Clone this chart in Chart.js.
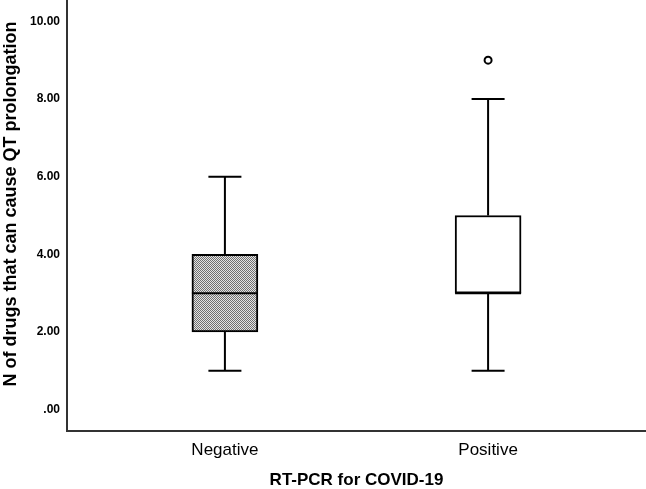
<!DOCTYPE html>
<html>
<head>
<meta charset="utf-8">
<script src="https://cdn.jsdelivr.net/npm/chart.js@4.4.0/dist/chart.umd.min.js"></script>
<style>
  body { margin: 0; background: #fff; }
  canvas { display: block; }
</style>
</head>
<body>
<canvas id="qt_box_chart" width="646" height="489"></canvas>
<script>
// groups and box plot summary values
const groups = ['Negative', 'Positive'];
const groupPos = [1, 2];
const minVals = [1, 1];
const q1Vals = [2, 3];
const medianVals = [3, 3];
const q3Vals = [4, 5];
const maxVals = [6, 8];
// outliers (group position, value)
const outlierPos = [2];
const outlierVals = [9];
const yTicks = [0, 2, 4, 6, 8, 10];

const yTitle = 'N of drugs that can cause QT prolongation';
const xTitle = 'RT-PCR for COVID-19';
const FONT = "'Liberation Sans', Arial, sans-serif";

let canvas = document.getElementById('qt_box_chart');
let ctx = canvas.getContext('2d');

// fine dotted fill like the SPSS pattern
function dotPattern() {
    let c = document.createElement('canvas');
    c.width = 2;
    c.height = 2;
    let g = c.getContext('2d');
    g.fillStyle = '#e4e4e4';
    g.fillRect(0, 0, 2, 2);
    g.fillStyle = '#707070';
    g.fillRect(0, 0, 1, 1);
    g.fillRect(1, 1, 1, 1);
    return ctx.createPattern(c, 'repeat');
}

// whiskers, caps and median on top of the boxes
const whiskerPlugin = {
    id: 'whiskers',
    afterDatasetsDraw(chart) {
        const c = chart.ctx;
        const y = chart.scales.y;
        const bars = chart.getDatasetMeta(0).data;
        c.save();
        c.strokeStyle = '#000';
        c.lineWidth = 2;
        bars.forEach(function(bar, i) {
            const cx = bar.x;
            const half = bar.width / 2;
            const cap = bar.width / 4;
            const yMax = y.getPixelForValue(maxVals[i]);
            const yMin = y.getPixelForValue(minVals[i]);
            const yQ3 = y.getPixelForValue(q3Vals[i]);
            const yQ1 = y.getPixelForValue(q1Vals[i]);
            const yMed = y.getPixelForValue(medianVals[i]);
            c.beginPath();
            c.moveTo(cx, yQ3); c.lineTo(cx, yMax);
            c.moveTo(cx - cap, yMax); c.lineTo(cx + cap, yMax);
            c.moveTo(cx, yQ1); c.lineTo(cx, yMin);
            c.moveTo(cx - cap, yMin); c.lineTo(cx + cap, yMin);
            c.moveTo(cx - half, yMed); c.lineTo(cx + half, yMed);
            c.stroke();
        });
        c.restore();
    }
};

// y axis title, placed a little above the middle like the original
const yTitlePlugin = {
    id: 'yTitle',
    afterDraw(chart) {
        const c = chart.ctx;
        c.save();
        c.translate(16, 204);
        c.rotate(-Math.PI / 2);
        c.font = 'bold 18px ' + FONT;
        c.fillStyle = '#000';
        c.textAlign = 'center';
        c.textBaseline = 'alphabetic';
        c.fillText(yTitle, 0, 0);
        c.restore();
    }
};

let chart_data = new Chart(canvas, {
    type: 'bar',
    data: {
        datasets: [
            // boxes (Q1 to Q3)
            {
                data: groupPos.map((p, i) => ({ x: p, y: [q1Vals[i], q3Vals[i]] })),
                backgroundColor: [dotPattern(), '#ffffff'],
                borderColor: '#000',
                borderWidth: 2,
                borderSkipped: false,
                barThickness: 66
            },
            // outliers
            {
                type: 'scatter',
                data: outlierPos.map((p, i) => ({ x: p, y: outlierVals[i] })),
                pointStyle: 'circle',
                pointRadius: 3.5,
                borderWidth: 2,
                borderColor: '#000',
                backgroundColor: '#fff'
            }
        ]
    },
    options: {
        responsive: false,
        animation: false,
        layout: { padding: 0, autoPadding: false },
        plugins: {
            legend: { display: false },
            tooltip: { enabled: false }
        },
        scales: {
            x: {
                type: 'linear',
                offset: false,
                min: 0.4,
                max: 2.6,
                grid: { display: false, drawTicks: false, offset: false },
                border: { display: true, color: '#333', width: 2 },
                afterBuildTicks: function(scale) {
                    scale.ticks = groupPos.map(v => ({ value: v }));
                },
                ticks: {
                    padding: 9,
                    color: '#000',
                    font: { family: FONT, size: 17 },
                    callback: function(value) {
                        let i = groupPos.indexOf(value);
                        return i >= 0 ? groups[i] : '';
                    }
                },
                title: {
                    display: true,
                    text: xTitle,
                    color: '#000',
                    padding: 0,
                    font: { family: FONT, size: 17, weight: 'bold', lineHeight: 1 }
                },
                afterFit: function(scale) {
                    scale.height = 58;
                    scale.paddingLeft = 0;
                    scale.paddingRight = 0;
                }
            },
            y: {
                min: -0.55,
                max: 10.55,
                grid: { display: false, drawTicks: false },
                border: { display: true, color: '#333', width: 2 },
                afterBuildTicks: function(scale) {
                    scale.ticks = yTicks.map(v => ({ value: v }));
                },
                ticks: {
                    padding: 7,
                    color: '#000',
                    font: { family: FONT, size: 12, weight: 'bold' },
                    callback: function(value) {
                        return value === 0 ? '.00' : value.toFixed(2);
                    }
                },
                afterFit: function(scale) {
                    scale.width = 67;
                    scale.paddingTop = 0;
                    scale.paddingBottom = 0;
                }
            }
        }
    },
    plugins: [whiskerPlugin, yTitlePlugin]
});
</script>
</body>
</html>
